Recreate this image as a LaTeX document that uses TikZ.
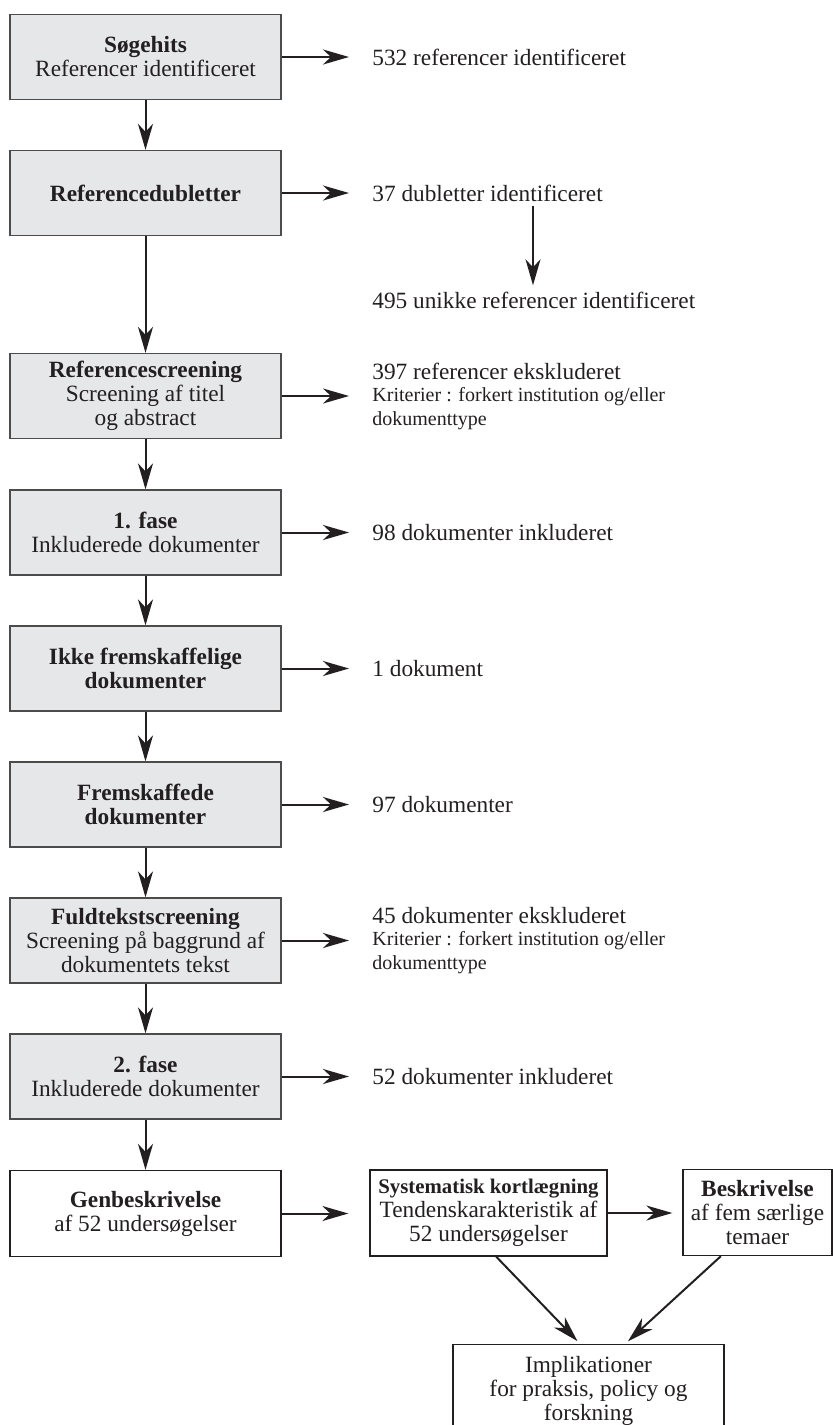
\documentclass[tikz,border=0pt]{standalone}
\usepackage{fontspec}
\setmainfont{Liberation Serif}
\usetikzlibrary{arrows.meta}
\newcommand\mainfs{\fontsize{11.65}{12}\selectfont}
\newcommand\smallfs{\fontsize{10}{10}\selectfont}
\definecolor{ink}{RGB}{35,31,32}
\definecolor{boxgray}{RGB}{230,231,232}

\begin{document}
\begin{tikzpicture}[x=0.5pt, y=-0.5pt, font=\mainfs, text=ink,
  box/.style={draw=black!70, line width=0.65pt, fill=boxgray, minimum width=135.5pt,
    minimum height=42.5pt, align=center, inner sep=0pt},
  wbox/.style={draw=ink, line width=0.65pt, fill=white, minimum height=43pt,
    align=center, inner sep=0pt},
  res/.style={anchor=west, align=left, inner sep=0pt},
  arr/.style={draw=ink, line width=1pt, -{Stealth[length=13pt, width=7.5pt, inset=4pt]}}]
  \useasboundingbox (0,0) rectangle (833,1425);
  \node[box] (b1) at (145.5,57) {\textbf{Søgehits}\\Referencer identificeret};
  \node[box] (b2) at (145.5,193) {\textbf{Referencedubletter}};
  \node[box] (b3) at (145.5,396) {\textbf{Referencescreening}\\Screening af titel\\og abstract};
  \node[box] (b4) at (145.5,532.5) {\textbf{1. fase}\\Inkluderede dokumenter};
  \node[box] (b5) at (145.5,668.5) {\textbf{Ikke fremskaffelige}\\\textbf{dokumenter}};
  \node[box] (b6) at (145.5,804.5) {\textbf{Fremskaffede}\\\textbf{dokumenter}};
  \node[box] (b7) at (145.5,940.5) {\textbf{Fuldtekstscreening}\\Screening på baggrund af\\dokumentets tekst};
  \node[box] (b8) at (145.5,1076.5) {\textbf{2. fase}\\Inkluderede dokumenter};
  \node[wbox, minimum width=135.5pt] (b9) at (145.5,1213.5) {\textbf{Genbeskrivelse}\\af 52 undersøgelser};

  \node[res] (t1) at (372,57) {532 referencer identificeret};
  \node[res] (t2) at (372,193) {37 dubletter identificeret};
  \node[res] (uni) at (372,300) {495 unikke referencer identificeret};
  \node[res] (t3) at (372,396) {397 referencer ekskluderet\\[-1pt]{\smallfs Kriterier : forkert institution og/eller}\\{\smallfs dokumenttype}};
  \node[res] (t4) at (372,532.5) {98 dokumenter inkluderet};
  \node[res] (t5) at (372,668.5) {1 dokument};
  \node[res] (t6) at (372,804.5) {97 dokumenter};
  \node[res] (t7) at (372,940.5) {45 dokumenter ekskluderet\\[-1pt]{\smallfs Kriterier : forkert institution og/eller}\\{\smallfs dokumenttype}};
  \node[res] (t8) at (372,1076.5) {52 dokumenter inkluderet};

  \node[wbox, minimum width=118.5pt] (sys) at (488.5,1213) {{\fontsize{10.4}{12}\selectfont\textbf{Systematisk kortlægning}}\\Tendenskarakteristik af\\52 undersøgelser};
  \node[wbox, minimum width=74.5pt] (besk) at (757.5,1212.5) {\textbf{Beskrivelse}\\af fem særlige\\temaer};
  \node[wbox, minimum width=135.5pt, minimum height=46pt, anchor=north] (impl) at (588.5,1344) {Implikationer\\for praksis, policy og\\forskning};

  \foreach \a/\b in {b1/b2, b2/b3, b3/b4, b4/b5, b5/b6, b6/b7, b7/b8, b8/b9}
    \draw[arr] (\a) -- (\b);
  \foreach \n in {1,...,8}
    \draw[arr, shorten >=11.5pt] (b\n.east) -- (b\n.east -| t\n.west);
  \draw[arr, shorten <=2pt, shorten >=3pt] (t2.south -| 533,0) -- (uni.north -| 533,0);
  \draw[arr, shorten >=10.5pt] (b9.east) -- (b9.east -| sys.west);
  \draw[arr, shorten >=5pt] (sys.east) -- (sys.east -| besk.west);
  \draw[arr, shorten >=2pt] (sys.-80) -- (impl.100);
  \draw[arr, shorten >=2pt] (besk.-130) -- (impl.52);
\end{tikzpicture}
\end{document}
